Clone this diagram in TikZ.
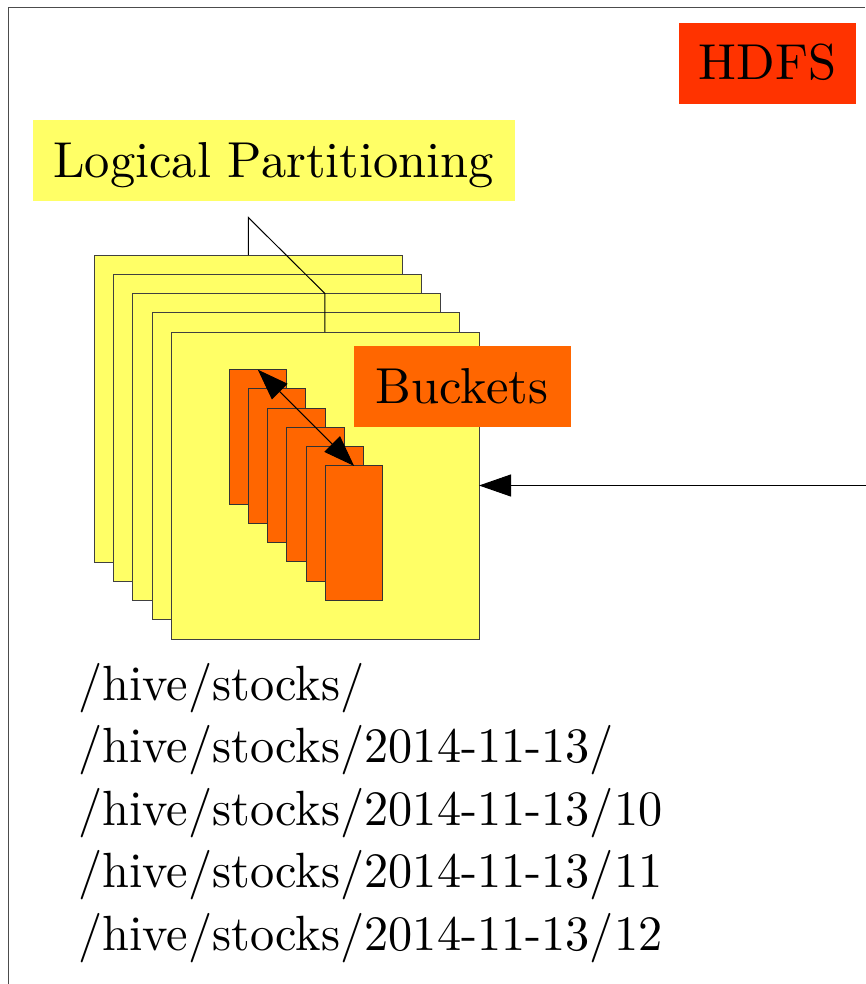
\documentclass[tikz,border=0pt]{standalone}
\usetikzlibrary{arrows.meta,calc}
\definecolor{pageyellow}{HTML}{FFFF66}
\definecolor{bucketorange}{HTML}{FF6600}
\definecolor{hdfsred}{HTML}{FF3300}
% text set in the 10pt design and enlarged, for a sturdier look
\newcommand{\bigtag}[1]{\scalebox{5.05}{#1}}
\newcommand{\bigpath}[1]{\scalebox{4.83}[4.95]{#1}}
\begin{document}
\begin{tikzpicture}[x=1pt,y=-1pt,
  page/.style={draw=black!75, fill=pageyellow, line width=1pt, anchor=north west,
    inner sep=0, outer sep=0, minimum width=307.7pt, minimum height=307pt},
  bucket/.style={draw=black!80, fill=bucketorange, line width=1pt, anchor=north west,
    inner sep=0, outer sep=0, minimum width=57.7pt, minimum height=134.5pt},
  tagbox/.style={anchor=north west, inner sep=0, outer sep=0},
  tagtext/.style={anchor=base, inner sep=0, outer sep=0, font=\fontsize{10}{12}\selectfont},
  pathline/.style={anchor=base west, inner sep=0, outer sep=0, font=\fontsize{10}{12}\selectfont},
  link/.style={line width=1pt, black},
  bigtip/.style={-{Triangle[length=32pt,width=22pt]}},
  bothtips/.style={{Triangle[length=31pt,width=22pt]}-{Triangle[length=31pt,width=22pt]}}
]
\useasboundingbox (0,0) rectangle (865,984);

% frame (top and left edges)
\draw[line width=1.2pt, black!70] (8.3,984) -- (8.3,7.7) -- (865,7.7);

% labels
\node[tagbox, fill=hdfsred, minimum width=177pt, minimum height=81pt] (hdfsbox) at (679,23) {};
\node[tagtext] (hdfs) at (767.5,80) {\bigtag{HDFS}};

\node[tagbox, fill=pageyellow, minimum width=482.5pt, minimum height=81pt] (lpbox) at (32.5,120) {};
\node[tagtext] (lp) at (273.7,178) {\bigtag{Logical Partitioning}};

% stacked partitions
\foreach \i in {1,...,5} {
  \node[page] (p\i) at ({94.3+19.25*(\i-1)},{255+19.25*(\i-1)}) {};
}

% callout from the back partition to the front one
\path (p1.north west) ++(154,0) coordinate (cA);
\path (cA) ++(0,-37.5) coordinate (cB);
\path (p3.north west) ++(192.1,0) coordinate (cC);
\draw[link] (cA) -- (cB) -- (cC) -- (cC |- p5.north);

% buckets inside the front partition
\foreach \i in {1,...,6} {
  \node[bucket] (b\i) at ({229+19.25*(\i-1)},{369.7+19.25*(\i-1)}) {};
}
\draw[link, bothtips] (b1.north) -- (b6.north);

\node[tagbox, fill=bucketorange, minimum width=216.5pt, minimum height=81pt] (bkbox) at (354,346) {};
\node[tagtext] (bk) at (462,403.3) {\bigtag{Buckets}};

% incoming arrow from HDFS
\coordinate (hdfsin) at (866,485.5);
\draw[link, bigtip] (hdfsin) -- (p5.east);

% directory paths
\node[pathline] (l1) at (78.3,700) {\bigpath{/hive/stocks/}};
\node[pathline] (l2) at (78.3,762.5) {\bigpath{/hive/stocks/2014-11-13/}};
\node[pathline] (l3) at (78.3,825) {\bigpath{/hive/stocks/2014-11-13/10}};
\node[pathline] (l4) at (78.3,887.5) {\bigpath{/hive/stocks/2014-11-13/11}};
\node[pathline] (l5) at (78.3,950) {\bigpath{/hive/stocks/2014-11-13/12}};
\end{tikzpicture}
\end{document}
